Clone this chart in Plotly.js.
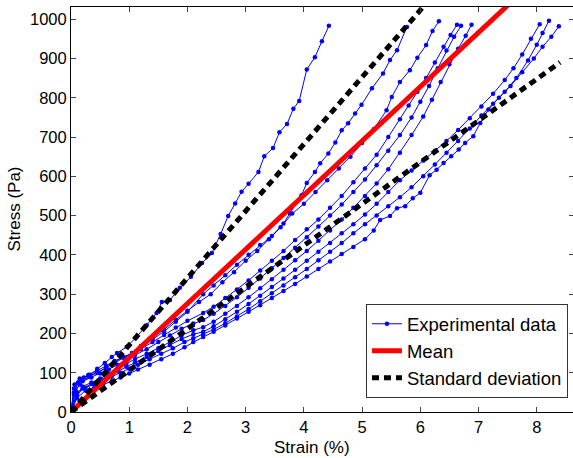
<!DOCTYPE html>
<html>
<head>
<meta charset="utf-8">
<script src="https://cdn.plot.ly/plotly-3.0.1.min.js"></script>
<style>html,body{margin:0;padding:0;background:#fff;overflow:hidden;}#wrap{width:573px;height:458px;overflow:hidden;}#chart{width:575px;height:458px;}</style>
</head>
<body>
<div id="wrap"><div id="chart"></div></div>
<script>
// Experimental curves: strain (%) and stress (Pa)
const aX = [0,0.05,0.12,0.22,0.33,0.45,0.58,0.70,0.79,0.96,1.13,1.30,1.47,1.56,1.70,1.87,2.06,2.25,2.42,2.57,2.70,2.82,2.93,3.05,3.22,3.32,3.47,3.58,3.71,3.82,3.92,4.05,4.19,4.31,4.43];
const aY = [0,45,75,88,95,110,125,140,150,166,192,221,252,280,285,316,344,379,405,453,499,531,561,581,611,651,672,712,733,772,792,872,903,944,983];
const bX = [0,0.05,0.15,0.3,0.45,0.6,0.75,0.9,1.05,1.2,1.4,1.6,1.8,2.0,2.2,2.4,2.6,2.8,3.0,3.2,3.4,3.6,3.8,4.0,4.2,4.4,4.6,4.8,5.0,5.2,5.42,5.51,5.65,5.82,5.95,6.10,6.21,6.32];
const bY = [0,60,80,95,105,118,130,140,150,168,190,210,235,258,280,300,330,356,385,410,440,470,505,530,560,590,620,650,685,720,768,802,840,870,902,934,970,995];
const cX = [0,0.05,0.15,0.3,0.45,0.6,0.75,0.9,1.05,1.2,1.4,1.6,1.8,2.0,2.27,2.45,2.65,2.85,3.05,3.25,3.45,3.65,3.76,3.96,4.05,4.19,4.28,4.42,4.54,4.65,4.76,4.88,4.99,5.17,5.36,5.48,5.60,5.77];
const cY = [0,50,70,90,100,112,125,138,150,165,185,205,230,255,300,322,348,375,400,425,448,480,506,552,583,611,633,658,686,717,735,760,782,824,862,896,921,980];
const dX = [0,0.06,0.15,0.3,0.45,0.6,0.75,0.9,1.05,1.2,1.4,1.6,1.8,2.0,2.27,2.45,2.65,2.85,3.05,3.25,3.45,3.65,3.85,4.05,4.25,4.45,4.65,4.85,5.05,5.25,5.45,5.65,5.8,5.95,6.1,6.25,6.4,6.52,6.63];
const dY = [0,70,85,92,100,112,128,140,148,160,178,196,215,232,252,268,290,312,335,360,385,410,438,465,490,520,550,585,620,655,700,745,780,815,850,890,930,960,986];
const eX = [0,0.08,0.2,0.35,0.5,0.65,0.8,0.95,1.1,1.3,1.5,1.7,1.9,2.1,2.27,2.45,2.65,2.85,3.05,3.25,3.45,3.65,3.85,4.05,4.25,4.45,4.65,4.85,5.05,5.25,5.45,5.65,5.85,6.0,6.15,6.3,6.45,6.58,6.70];
const eY = [0,55,78,88,98,108,120,132,145,160,178,195,212,225,234,250,270,292,316,340,366,392,418,445,472,500,528,560,592,628,665,705,750,790,830,875,920,955,983];
const fX = [0,0.1,0.2,0.35,0.5,0.65,0.8,0.95,1.1,1.3,1.5,1.7,1.9,2.1,2.27,2.45,2.65,2.85,3.05,3.25,3.45,3.65,3.85,4.05,4.25,4.45,4.65,4.85,5.05,5.25,5.45,5.65,5.85,6.05,6.2,6.35,6.5,6.65,6.78,6.88];
const fY = [0,45,65,75,85,98,110,122,135,148,162,178,195,208,216,230,250,270,292,315,338,362,386,410,436,462,490,520,550,582,618,660,705,752,795,840,885,925,958,986];
const gX = [0,0.1,0.2,0.35,0.5,0.65,0.8,0.95,1.1,1.3,1.5,1.7,1.9,2.1,2.27,2.45,2.65,2.85,3.05,3.25,3.45,3.65,3.85,4.05,4.25,4.45,4.65,4.85,5.05,5.25,5.45,5.65,5.85,6.05,6.25,6.45,6.65,6.85,7.05,7.25,7.45,7.6,7.75,7.9,8.05];
const gY = [0,40,60,72,82,92,104,115,126,140,155,170,186,198,204,218,236,255,275,296,318,340,362,385,408,430,455,478,503,530,560,590,615,640,665,690,718,748,778,810,845,875,910,950,987];
const hX = [0,0.1,0.25,0.4,0.55,0.7,0.85,1.0,1.15,1.35,1.55,1.75,1.95,2.1,2.27,2.45,2.65,2.85,3.05,3.25,3.45,3.65,3.85,4.05,4.25,4.45,4.65,4.85,5.05,5.25,5.45,5.65,5.85,6.05,6.25,6.45,6.65,6.85,7.05,7.25,7.45,7.65,7.85,8.0,8.1,8.21];
const hY = [0,50,62,70,80,90,100,110,120,134,148,162,178,188,198,210,226,243,262,282,302,322,343,364,386,408,430,455,478,500,524,547,572,600,630,660,690,722,755,785,815,850,895,935,965,996];
const iX = [0,0.1,0.25,0.4,0.55,0.7,0.85,1.0,1.15,1.35,1.55,1.75,1.95,2.1,2.27,2.45,2.65,2.85,3.05,3.25,3.45,3.65,3.85,4.05,4.25,4.45,4.65,4.85,5.05,5.2,5.31,5.48,5.6,5.74,5.87,6.0,6.16,6.28,6.40,6.53,6.66,6.77,6.91,7.03,7.17,7.35,7.55,7.75,7.95,8.1,8.25,8.38];
const iY = [0,35,55,62,70,78,88,98,108,120,134,148,165,178,191,204,220,238,255,272,290,308,326,345,364,383,402,420,440,462,489,499,519,524,544,558,603,617,634,651,668,685,702,736,770,800,830,865,900,930,955,982];

// Mean and standard deviation lines
const meanX = [0, 7.5];
const meanY = [0, 1035];
const sdUpX = [0, 6.1];
const sdUpY = [0, 1040];
const sdLoX = [0, 8.4];
const sdLoY = [0, 890];

const xTicks = [0,1,2,3,4,5,6,7,8];
const yTicks = [0,100,200,300,400,500,600,700,800,900,1000];

const expSets = [[aX,aY],[bX,bY],[cX,cY],[dX,dY],[eX,eY],[fX,fY],[gX,gY],[hX,hY],[iX,iY]];
const traces = [];
expSets.forEach((s, k) => {
  traces.push({
    x: s[0], y: s[1], type: 'scatter', mode: 'lines+markers',
    name: 'Experimental data', showlegend: k === 0, legendgroup: 'exp',
    line: {color: '#0000ff', width: 1},
    marker: {color: '#0000ff', size: 4.5}
  });
});
traces.push({x: meanX, y: meanY, type: 'scatter', mode: 'lines', name: 'Mean',
  line: {color: '#ff0000', width: 5}});
traces.push({x: sdUpX, y: sdUpY, type: 'scatter', mode: 'lines', name: 'Standard deviation',
  legendgroup: 'sd', line: {color: '#000000', width: 5, dash: '7px,5px'}});
traces.push({x: sdLoX, y: sdLoY, type: 'scatter', mode: 'lines', name: 'Standard deviation',
  legendgroup: 'sd', showlegend: false, line: {color: '#000000', width: 5, dash: '7px,5px'}});

const fam = 'Liberation Sans, Arial, sans-serif';
const font = {family: fam, size: 17, color: '#000'};
const tickFont = {family: fam, size: 16.5, color: '#000'};
const layout = {
  width: 575, height: 458,
  margin: {l: 71, r: 1, t: 7, b: 46},
  paper_bgcolor: '#fff', plot_bgcolor: '#fff',
  font: font,
  showlegend: true,
  legend: {x: 0.988, xanchor: 'right', y: 0.034, yanchor: 'bottom',
    bordercolor: '#333', borderwidth: 1, bgcolor: '#fff',
    font: {family: fam, size: 18.5, color: '#000'},
    traceorder: 'normal'},
  xaxis: {range: [0, 8.64], tickvals: xTicks, ticks: 'inside', ticklen: 5,
    showline: true, linecolor: '#000', linewidth: 1, mirror: 'ticks', showgrid: false, zeroline: false,
    tickfont: tickFont},
  yaxis: {range: [0, 1031], tickvals: yTicks, ticks: 'inside', ticklen: 5,
    showline: true, linecolor: '#000', linewidth: 1, mirror: 'ticks', showgrid: false, zeroline: false,
    tickfont: tickFont},
  annotations: [
    {text: 'Strain (%)', xref: 'paper', yref: 'paper', x: (312 - 71) / 503, y: (412 - 447) / 405,
      xanchor: 'center', yanchor: 'middle', showarrow: false, font: font},
    {text: 'Stress (Pa)', xref: 'paper', yref: 'paper', x: (14 - 71) / 503, y: 0.5, textangle: -90,
      xanchor: 'center', yanchor: 'middle', showarrow: false, font: font}
  ]
};
Plotly.newPlot('chart', traces, layout, {displayModeBar: false, staticPlot: true});
</script>
</body>
</html>
